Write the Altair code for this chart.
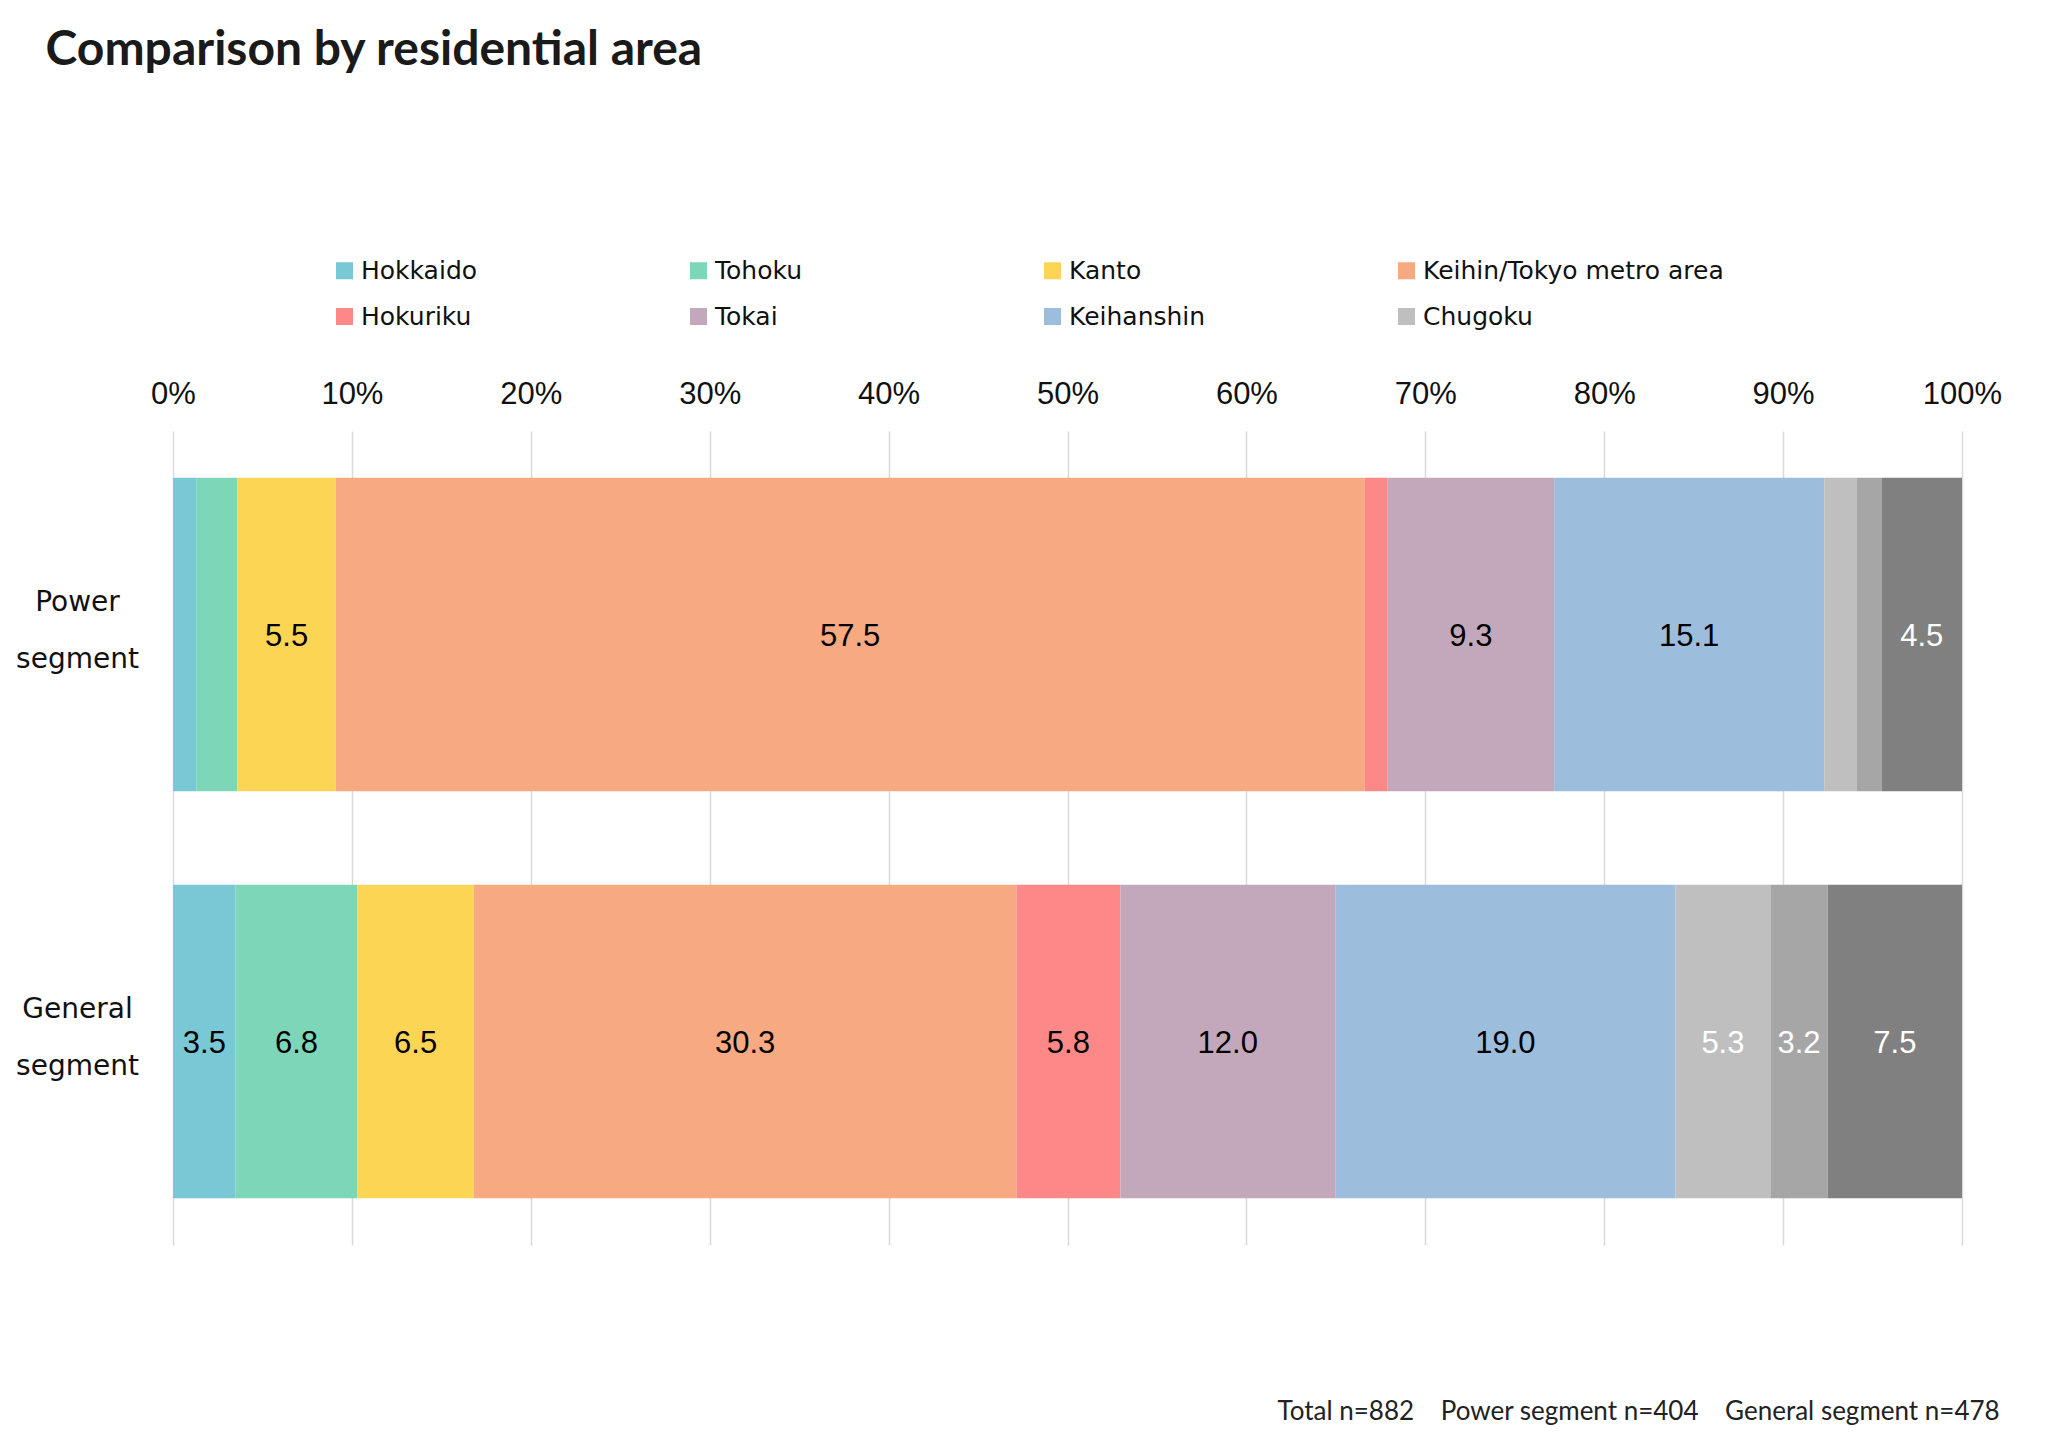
import altair as alt
import pandas as pd

segments = ["Power segment", "General segment"]
regions = ["Hokkaido", "Tohoku", "Kanto", "Keihin/Tokyo metro area", "Hokuriku",
           "Tokai", "Keihanshin", "Chugoku", "Shikoku", "Kyushu/Okinawa"]
power_values = [1.3, 2.3, 5.5, 57.5, 1.3, 9.3, 15.1, 1.8, 1.4, 4.5]
general_values = [3.5, 6.8, 6.5, 30.3, 5.8, 12.0, 19.0, 5.3, 3.2, 7.5]
region_colors = ["#78C8D5", "#7ED6B8", "#FDD555", "#F7A982", "#FD8888",
                 "#C3A8BC", "#9CBEDC", "#BFBFBF", "#A6A6A6", "#808080"]
white_label_regions = ["Chugoku", "Shikoku", "Kyushu/Okinawa"]
legend_regions = regions[:8]
ticks = [i / 10 for i in range(11)]

title_text = "Comparison by residential area"
footer_text = "Total n=882\u00a0\u00a0\u00a0\u00a0Power segment n=404\u00a0\u00a0\u00a0\u00a0General segment n=478"

rows = []
for seg, vals in zip(segments, [power_values, general_values]):
    for i, (r, v) in enumerate(zip(regions, vals)):
        rows.append({"segment": seg, "region": r, "idx": i, "value": v})
df = pd.DataFrame(rows)

y_enc = alt.Y(
    "segment:N",
    sort=segments,
    scale=alt.Scale(paddingInner=0.23, paddingOuter=0.115),
    axis=alt.Axis(
        title=None, domain=False, ticks=False, tickSize=0, grid=False,
        labelExpr="split(datum.label, ' ')",
        labelFont="DejaVu Sans", labelFontSize=28, labelColor="#111111",
        labelAlign="center", labelBaseline="middle", labelPadding=96,
        labelLineHeight=57, labelOffset=-32,
    ),
)

x_scale = alt.Scale(domain=[0, 1], nice=False)

bars = alt.Chart(df).mark_bar(stroke=None, strokeWidth=0).encode(
    x=alt.X(
        "value:Q", stack="normalize", scale=x_scale,
        axis=alt.Axis(
            orient="top", title=None, values=ticks, format=".0%",
            domain=False, ticks=False, tickSize=0, labelFlush=False,
            labelOverlap=False,
            grid=True, gridColor="#D9D9D9", gridWidth=1.5,
            labelFont="Liberation Sans", labelFontSize=31, labelColor="#111111",
            labelPadding=21,
        ),
    ),
    y=y_enc,
    color=alt.Color(
        "region:N",
        scale=alt.Scale(domain=regions, range=region_colors),
        legend=alt.Legend(
            title=None, values=legend_regions, orient="none",
            legendX=159, legendY=-173, columns=4, gridAlign="all",
            direction="horizontal",
            symbolType="square", symbolSize=289, symbolStrokeWidth=0,
            labelFont="DejaVu Sans", labelFontSize=25, labelColor="#111111",
            labelOffset=4, columnPadding=24, rowPadding=20, labelLimit=400,
        ),
    ),
    order=alt.Order("idx:Q", sort="ascending"),
)

labels = alt.Chart(df).transform_joinaggregate(
    total="sum(value)", groupby=["segment"]
).transform_window(
    cum="sum(value)", sort=[alt.SortField("idx")], groupby=["segment"], frame=[None, 0]
).transform_calculate(
    mid="(datum.cum - datum.value / 2) / datum.total",
    label="format(datum.value, '.1f')",
).transform_filter(
    alt.datum.value >= 3
).mark_text(
    font="Liberation Sans", fontSize=31, align="center", baseline="middle", dy=2
).encode(
    x=alt.X("mid:Q", scale=x_scale),
    y=alt.Y("segment:N", sort=segments),
    text="label:N",
    color=alt.condition(
        alt.FieldOneOfPredicate(field="region", oneOf=white_label_regions),
        alt.value("#FFFFFF"),
        alt.value("#000000"),
    ),
)

inner = alt.layer(bars, labels).properties(
    width=1789,
    height=814,
    title=alt.TitleParams(
        footer_text, orient="bottom", anchor="end", font="Lato", fontSize=26,
        fontWeight="normal", color="#222222", offset=154, dx=-2,
    ),
)

chart = alt.vconcat(inner).properties(
    title=alt.TitleParams(
        title_text, anchor="start", font="Lato", fontSize=48, fontWeight="bold",
        color="#1A1A1A", dx=30, offset=183,
    ),
    padding={"left": 7, "top": 19, "right": 5, "bottom": 5},
    background="#FFFFFF",
).configure_view(stroke=None, strokeWidth=0)

chart.save("out.html", embed_options={"renderer": "svg", "actions": False})
